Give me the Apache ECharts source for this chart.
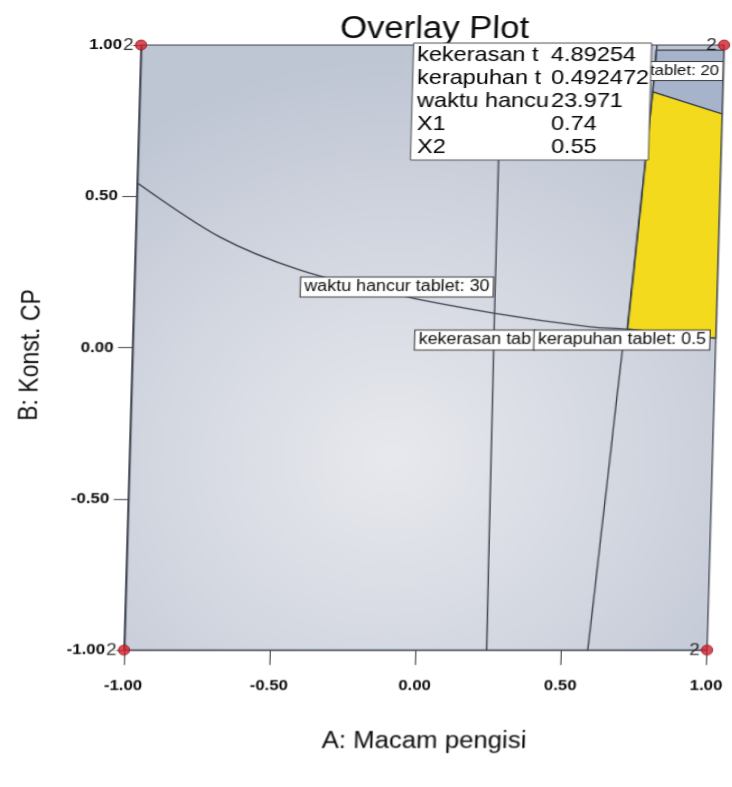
<!DOCTYPE html>
<html>
<head>
<meta charset="utf-8">
<title>Overlay Plot</title>
<script src="https://cdn.jsdelivr.net/npm/echarts@6/dist/echarts.min.js"></script>
<style>
  html, body { margin: 0; padding: 0; background: #ffffff; overflow: hidden; }
  #chart { position: absolute; left: 0; top: 0; width: 654px; height: 787px; transform-origin: 0 650px; }
</style>
</head>
<body>
<div id="chart"></div>
<script>
// ---- design space (coded factor levels) ----
const axisTicks = [-1, -0.5, 0, 0.5, 1];
const designPoints = [[-1, 1], [1, 1], [-1, -1], [1, -1]];
const designCounts = [2, 2, 2, 2];

// ---- contour lines, [A, B] pairs ----
const waktuHancur30 = [[-1.0, 0.545], [-0.71, 0.365], [-0.432, 0.256], [-0.096, 0.174], [0.235, 0.114], [0.57, 0.068], [0.691, 0.061], [1.0, 0.031]];
const kekerasanLine = [[0.244, -1], [0.239, 0], [0.238, 0.5], [0.237, 1]];
const kerapuhan05 = [[0.591, -1], [0.651, -0.339], [0.682, 0], [0.697, 0.068], [0.76, 0.845], [0.77, 1]];

// ---- shaded regions, polygon vertices ----
const shadedRegion = [[0.76, 0.845], [0.768, 0.983], [1.0, 0.983], [1.0, 0.772]];
const feasibleRegion = [[0.695, 0.062], [0.76, 0.845], [1.0, 0.772], [1.0, 0.031]];

// ---- contour labels ----
const contourLabelText = ['waktu hancur tablet: 30', 'kekerasan tab', 'kerapuhan tablet: 0.5', 'waktu hancur tablet: 20'];
const contourLabelAt = [[-0.43, 0.2], [-0.033, 0.025], [0.376, 0.025], [0.999, 0.914]];

// ---- flag readout ----
const flagNames = ['kekerasan t', 'kerapuhan t', 'waktu hancu', 'X1', 'X2'];
const flagValues = ['4.89254', '0.492472', '23.971', '0.74', '0.55'];

// The container is stretched and sheared with CSS; cx() maps a page x (at page row y)
// back into the chart's own coordinate space.
const SX = 732 / 654;
const SK = -17 / 605;
const OY = 650;
const cx = (x, y) => (x - SK * (y - OY)) / SX;

const el = document.getElementById('chart');
el.style.transform = 'matrix(' + SX + ',0,' + SK + ',1,0,0)';

const FONT = "'Liberation Sans', Arial, Helvetica, sans-serif";
const INK = '#0c0c0c';
const LINE = '#3b404c';
const regionFills = ['#a6b3ca', '#f3da1c'];
const regions = [shadedRegion, feasibleRegion];

const chart = echarts.init(el, null, { renderer: 'canvas' });

const gridLeft = 124 / SX;
const gridRight = 654 - 707 / SX;

const axisCommon = {
  type: 'value', min: -1, max: 1, interval: 0.5,
  axisLine: { show: true, onZero: false, lineStyle: { color: LINE, width: 1.2 } },
  axisTick: { show: true, lineStyle: { color: LINE, width: 1 } },
  splitLine: { show: false },
  axisLabel: { color: INK, fontSize: 15, fontWeight: 'bold', fontFamily: FONT, formatter: v => v.toFixed(2) }
};

const contourLine = (name, data, smooth) => ({
  name, type: 'line', data, smooth, symbol: 'none', z: 3, silent: true,
  lineStyle: { color: LINE, width: 1.3 }
});

const flagRows = [];
flagNames.forEach((n, i) => {
  const y = 55 + i * 23;
  flagRows.push({ type: 'text', z: 101, x: cx(417, y), y,
    style: { text: n, fill: '#000', fontSize: 21, fontFamily: FONT, align: 'left', verticalAlign: 'middle' } });
  flagRows.push({ type: 'text', z: 101, x: cx(551, y), y,
    style: { text: flagValues[i], fill: '#000', fontSize: 21, fontFamily: FONT, align: 'left', verticalAlign: 'middle' } });
});

const option = {
  backgroundColor: '#ffffff',
  animation: false,
  title: {
    text: 'Overlay Plot', left: cx(429, 26), top: 9, textAlign: 'center',
    textStyle: { fontSize: 31, fontWeight: 'normal', color: INK, fontFamily: FONT }
  },
  grid: {
    left: gridLeft, right: gridRight, top: 45, bottom: 137, show: true,
    borderColor: LINE, borderWidth: 1.2,
    backgroundColor: new echarts.graphic.RadialGradient(0.45, 0.68, 0.78, [
      { offset: 0, color: '#e8e9ee' },
      { offset: 0.5, color: '#d4d8e1' },
      { offset: 1, color: '#bec5d3' }
    ])
  },
  xAxis: Object.assign({}, axisCommon, {
    axisTick: Object.assign({}, axisCommon.axisTick, { length: 15 }),
    axisLabel: Object.assign({}, axisCommon.axisLabel, { margin: 28 })
  }),
  yAxis: Object.assign({}, axisCommon, {
    axisTick: Object.assign({}, axisCommon.axisTick, { length: 13 }),
    axisLabel: Object.assign({}, axisCommon.axisLabel, { margin: 17 })
  }),
  series: [
    {
      name: 'regions', type: 'custom', z: 1, silent: true,
      data: regions.map((_, i) => [i, 0]),
      renderItem: (params, api) => ({
        type: 'polygon',
        shape: { points: regions[params.dataIndex].map(v => api.coord(v)) },
        style: { fill: regionFills[params.dataIndex], stroke: LINE, lineWidth: 1.2 }
      })
    },
    contourLine('waktu hancur tablet 30', waktuHancur30, 0.3),
    contourLine('kekerasan tablet', kekerasanLine, false),
    contourLine('kerapuhan tablet 0.5', kerapuhan05, 0.2),
    {
      name: 'contour labels', type: 'scatter', symbolSize: 1, z: 5, silent: true, clip: false,
      itemStyle: { color: 'rgba(0,0,0,0)' },
      data: contourLabelAt.map((p, i) => ({
        value: p,
        label: i === 3
          ? { formatter: contourLabelText[i], position: 'left', fontSize: 15 }
          : { formatter: contourLabelText[i], position: 'right' }
      })),
      label: {
        show: true, opacity: 1, distance: 0, fontSize: 16, color: INK, fontFamily: FONT,
        backgroundColor: '#ffffff', borderColor: '#3a3a3a', borderWidth: 1, padding: [2, 3, 1, 3]
      }
    },
    {
      name: 'design points', type: 'scatter', symbol: 'circle', symbolSize: 10, z: 6, clip: false, silent: true,
      itemStyle: { color: '#d2202c', borderColor: '#8e121b', borderWidth: 1 },
      data: designPoints.map(p => ({
        value: p,
        label: { backgroundColor: p[0] < 0 ? '#ffffff' : 'transparent' }
      })),
      label: {
        show: true, position: 'left', distance: 1, fontSize: 17, color: '#000', fontFamily: FONT,
        formatter: p => String(designCounts[p.dataIndex])
      }
    }
  ],
  graphic: [
    {
      type: 'rect', z: 100, x: cx(412, 101), y: 43,
      shape: { width: 238 / SX, height: 117 },
      style: { fill: '#ffffff', stroke: '#555555', lineWidth: 1 }
    }
  ].concat(flagRows, [
    {
      type: 'text', z: 10, x: cx(424, 742), y: 742,
      style: { text: 'A: Macam pengisi', fill: INK, fontSize: 23, fontFamily: FONT, align: 'center', verticalAlign: 'middle' }
    },
    {
      type: 'text', z: 10, x: cx(31, 355), y: 355, rotation: Math.PI / 2,
      style: { text: 'B: Konst. CP', fill: INK, fontSize: 23, fontFamily: FONT, align: 'center', verticalAlign: 'middle' }
    }
  ])
};

chart.setOption(option);
</script>
</body>
</html>
